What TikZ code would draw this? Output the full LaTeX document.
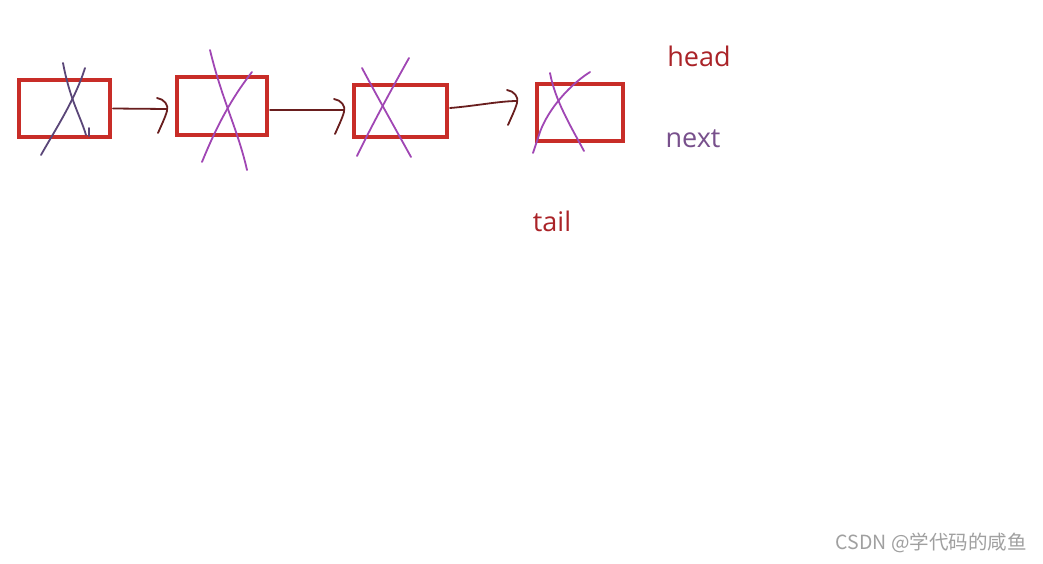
\documentclass[tikz,border=0pt]{standalone}
\usepackage{fontspec}
\setmainfont{Open Sans}
\newfontfamily\cjk{Noto Sans CJK SC}
\definecolor{boxred}{RGB}{200,45,40}
\definecolor{crosspurple}{RGB}{160,70,180}
\definecolor{darkcross}{RGB}{90,70,120}
\definecolor{arrowcol}{RGB}{105,30,30}
\definecolor{headcol}{RGB}{170,35,40}
\definecolor{nextcol}{RGB}{120,80,140}
\definecolor{wmark}{RGB}{160,160,160}
\begin{document}
\begin{tikzpicture}[x=1pt,y=-1pt,
  nodebox/.style={draw=boxred,line width=4.8pt,inner sep=0pt,outer sep=0pt},
  arrline/.style={draw=arrowcol,line width=1.8pt,line cap=round},
  xline/.style={draw=crosspurple,line width=1.8pt,line cap=round},
  xdark/.style={draw=darkcross,line width=1.8pt,line cap=round},
  lbl/.style={font=\fontsize{27}{32}\selectfont,inner sep=0pt},
  hookpic/.pic={\draw[arrline] (-10,-11) .. controls (-3,-10) and (2,-4) .. (0,2) .. controls (-2,9) and (-6,17) .. (-9,24);}
]
\useasboundingbox[fill=white] (0,0) rectangle (1043,563);
% boxes
\node[nodebox,minimum width=91pt,minimum height=57pt] (b1) at (64.5,108.5) {};
\node[nodebox,minimum width=90pt,minimum height=58pt] (b2) at (222,106) {};
\node[nodebox,minimum width=93pt,minimum height=52pt] (b3) at (400.5,111) {};
\node[nodebox,minimum width=86pt,minimum height=57pt] (b4) at (580,112.5) {};
% arrows
\coordinate (t1) at (167,109);
\coordinate (t2) at (344,110);
\coordinate (t3) at (517,101);
\draw[arrline] ([xshift=3pt]b1.east) -- (t1);
\pic at (t1) {hookpic};
\draw[arrline] ([xshift=3pt]b2.east |- t2) -- (t2);
\pic at (t2) {hookpic};
\draw[arrline] ([xshift=3pt]b3.east |- 0,108) .. controls (475,106) and (500,101) .. (t3);
\pic at (t3) {hookpic};
% crosses
\draw[xdark] (63,63) .. controls (70,100) and (80,115) .. (86,135);
\draw[xdark] (89,128) -- (89,136);
\draw[xdark] (85,68) .. controls (75,100) and (55,130) .. (41,155);
\draw[xline] (210,50) .. controls (222,100) and (238,130) .. (247,170);
\draw[xline] (252,72) .. controls (230,100) and (215,130) .. (202,162);
\draw[xline] (362,68) .. controls (378,98) and (395,128) .. (411,157);
\draw[xline] (409,58) .. controls (390,92) and (372,125) .. (357,156);
\draw[xline] (550,73) .. controls (555,100) and (570,125) .. (584,151);
\draw[xline] (590,72) .. controls (565,88) and (545,115) .. (539,135) -- (533,153);
% labels
\node[lbl,text=headcol] (head) at (699,56) {head};
\node[lbl,text=nextcol] (next) at (693,139) {next};
\node[lbl,text=headcol] (tail) at (552,221) {tail};
\node[inner sep=0pt,text=wmark,anchor=east,font=\cjk\fontsize{19.5}{23}\selectfont] (wm) at (1027,543) {CSDN @学代码的咸鱼};
\end{tikzpicture}
\end{document}
